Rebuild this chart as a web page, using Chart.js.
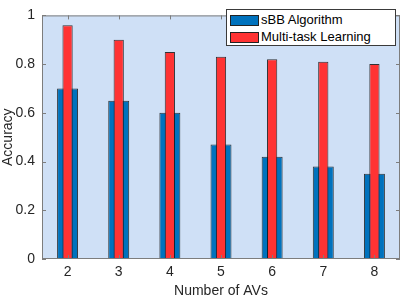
<!DOCTYPE html>
<html>
<head>
<meta charset="utf-8">
<title>Accuracy vs Number of AVs</title>
<script src="https://cdn.jsdelivr.net/npm/chart.js@4.4.1/dist/chart.umd.min.js"></script>
<style>
    html, body { margin: 0; padding: 0; background: #fff; }
    #wrap { position: relative; width: 402px; height: 298px; }
    #legend {
        position: absolute; left: 226px; top: 9px; width: 168px; height: 35px;
        background: #fff; border: 1px solid #3a3a3a;
        font: 13px "Liberation Sans", Arial, sans-serif; color: #000;
    }
    .row { position: absolute; left: 3px; height: 16px; line-height: 16px; white-space: nowrap; }
    .swatch { display: inline-block; width: 29px; height: 11px; border: 1px solid #222; vertical-align: -2px; margin-right: 2px; box-sizing: border-box; }
</style>
</head>
<body>
<div id="wrap">
    <canvas id="chart" width="402" height="298"></canvas>
    <div id="legend"></div>
</div>
<script>
const avCounts = ['2', '3', '4', '5', '6', '7', '8'];
const sbbAccuracy = [0.70, 0.65, 0.60, 0.47, 0.42, 0.38, 0.35];
const multiTaskAccuracy = [0.96, 0.90, 0.85, 0.83, 0.82, 0.81, 0.80];
const seriesNames = ['sBB Algorithm', 'Multi-task Learning'];

const blue = '#0072bd';
const red = '#ff3333';
const plotBg = '#cfe0f6';
const axisColor = '#7d7d7d';
const fontFamily = '"Liberation Sans", Arial, sans-serif';

// plot background plus the MATLAB style box with inward ticks
const boxPlugin = {
    id: 'box',
    beforeDraw(chart) {
        const a = chart.chartArea;
        const ctx = chart.ctx;
        ctx.save();
        ctx.fillStyle = plotBg;
        ctx.fillRect(a.left, a.top, a.right - a.left, a.bottom - a.top);
        ctx.restore();
    },
    afterDatasetsDraw(chart) {
        const ctx = chart.ctx;
        const a = chart.chartArea;
        const x = chart.scales.x;
        const y = chart.scales.y;
        const len = 4;
        ctx.save();
        ctx.strokeStyle = axisColor;
        ctx.lineWidth = 1;
        ctx.beginPath();
        x.ticks.forEach((t, i) => {
            const px = Math.round(x.getPixelForTick(i)) + 0.5;
            ctx.moveTo(px, a.bottom); ctx.lineTo(px, a.bottom - len);
            ctx.moveTo(px, a.top); ctx.lineTo(px, a.top + len);
        });
        y.ticks.forEach((t, i) => {
            const py = Math.round(y.getPixelForTick(i)) + 0.5;
            ctx.moveTo(a.left, py); ctx.lineTo(a.left + len, py);
            ctx.moveTo(a.right, py); ctx.lineTo(a.right - len, py);
        });
        ctx.stroke();
        ctx.strokeRect(a.left + 0.5, a.top + 0.5, a.right - a.left - 1, a.bottom - a.top - 1);
        ctx.restore();
    }
};

new Chart(document.getElementById('chart'), {
    type: 'bar',
    data: {
        labels: avCounts,
        datasets: [
            {
                label: seriesNames[0],
                data: sbbAccuracy,
                backgroundColor: blue,
                borderColor: 'rgba(20,20,20,0.85)',
                borderWidth: 1,
                barPercentage: 0.41,
                categoryPercentage: 1,
                grouped: false,
                order: 1
            },
            {
                label: seriesNames[1],
                data: multiTaskAccuracy,
                backgroundColor: red,
                borderColor: 'rgba(20,20,20,0.85)',
                borderWidth: 1,
                barPercentage: 0.2,
                categoryPercentage: 1,
                grouped: false,
                order: 0
            }
        ]
    },
    options: {
        responsive: false,
        animation: false,
        layout: { padding: { left: 0, top: 5, right: 2, bottom: 0 } },
        plugins: { legend: { display: false }, tooltip: { enabled: false } },
        scales: {
            x: {
                grid: { display: false, drawTicks: false },
                border: { display: false },
                ticks: { color: '#262626', padding: 5, font: { family: fontFamily, size: 14 } },
                title: { display: true, text: 'Number of AVs', color: '#262626', padding: 0, font: { family: fontFamily, size: 14, lineHeight: 1 } },
                afterFit(scale) { scale.height = 39; }
            },
            y: {
                min: 0,
                max: 1,
                grid: { display: false, drawTicks: false },
                border: { display: false },
                ticks: {
                    stepSize: 0.2,
                    color: '#262626',
                    padding: 7,
                    font: { family: fontFamily, size: 14 },
                    callback: v => String(+v.toFixed(1))
                },
                title: { display: true, text: 'Accuracy', color: '#262626', padding: 0, font: { family: fontFamily, size: 14, lineHeight: 1.1 } },
                afterFit(scale) { scale.width = 42; }
            }
        }
    },
    plugins: [boxPlugin]
});

// legend box drawn as html over the plot
const legend = document.getElementById('legend');
[blue, red].forEach((color, i) => {
    const row = document.createElement('div');
    row.className = 'row';
    row.style.top = (i === 0 ? 2 : 19) + 'px';
    row.innerHTML = '<span class="swatch" style="background:' + color + '"></span>' + seriesNames[i];
    legend.appendChild(row);
});
</script>
</body>
</html>
